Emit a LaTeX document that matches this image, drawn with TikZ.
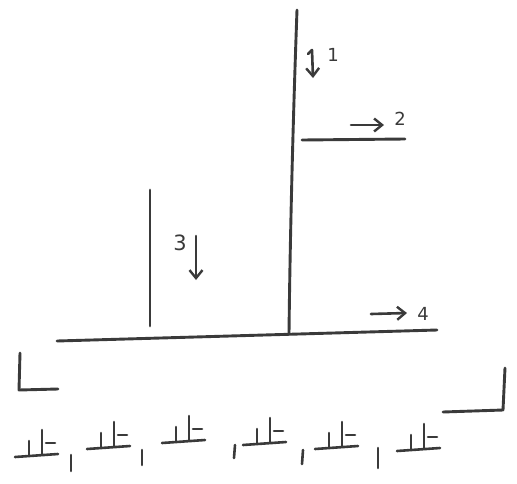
\documentclass[tikz,border=0pt]{standalone}
\usepackage{fontspec}
\setmainfont{DejaVu Sans}
\usetikzlibrary{arrows.meta}
\definecolor{ink}{HTML}{3A3A3A}
\tikzset{
  stroke/.style={draw=ink, line width=2.9pt, line cap=round, line join=round},
  thinstroke/.style={draw=ink, line width=2.6pt, line cap=round, line join=round},
  arr/.style={thinstroke, -{Straight Barb[length=8pt,width=13pt,line width=2.4pt]}},
  lbl/.style={text=ink, font=\fontsize{18}{18}\selectfont, inner sep=0pt},
  sprout/.pic={
    \path[thinstroke] (0,0) -- (43,-3);
    \path[thinstroke] (14,-2) -- (14,-16);
    \path[thinstroke] (27,-3) -- (27,-27);
    \path[thinstroke] (31,-14) -- (40,-14);
  }
}
\begin{document}
\begin{tikzpicture}[x=1pt,y=-1pt]
\useasboundingbox (0,0) rectangle (517,483);
% main structure
\coordinate (topM) at (297,10);
\coordinate (botM) at (289,334);
\coordinate (baseL) at (57,341);
\coordinate (baseR) at (437,330);
\coordinate (leftT) at (150,190);
\coordinate (leftB) at (150,326);
\coordinate (shL) at (302,140);
\coordinate (shR) at (405,139);
\path[stroke] (topM) .. controls (293,120) and (290,240) .. (botM);
\path[stroke] (baseL) -- (baseR);
\path[stroke] (leftT) -- (leftB);
\path[stroke] (shL) -- (shR);
% arrow 1
\coordinate (a1s) at (312,50);
\coordinate (a1e) at (313,78);
\path[thinstroke] (308,54) -- (a1s);
\path[arr] (a1s) -- (a1e);
\node[lbl] (l1) at (333,55) {1};
% arrow 2
\coordinate (a2s) at (351,125);
\coordinate (a2e) at (384,125);
\path[arr] (a2s) -- (a2e);
\node[lbl] (l2) at (400,119) {2};
% arrow 3
\coordinate (a3s) at (196,236);
\coordinate (a3e) at (196,280);
\path[arr] (a3s) -- (a3e);
\node[lbl,font=\fontsize{21}{21}\selectfont] (l3) at (180,243) {3};
% arrow 4
\coordinate (a4s) at (371,314);
\coordinate (a4e) at (407,313);
\path[arr] (a4s) -- (a4e);
\node[lbl] (l4) at (423,314) {4};
% brackets
\path[stroke] (20,353) -- (19,390) -- (58,389);
\path[stroke] (505,368) -- (503,410) -- (443,412);
% sprouts
\pic at (15,457) {sprout};
\pic at (87,449) {sprout};
\pic at (162,443) {sprout};
\pic at (243,445) {sprout};
\pic at (315,449) {sprout};
\pic at (397,451) {sprout};
% commas
\path[thinstroke] (71,455) -- (71,471);
\path[thinstroke] (142,450) -- (142,465);
\path[thinstroke] (235,445) -- (234,458);
\path[thinstroke] (303,450) -- (302,464);
\path[thinstroke] (378,448) -- (378,468);
\end{tikzpicture}
\end{document}
